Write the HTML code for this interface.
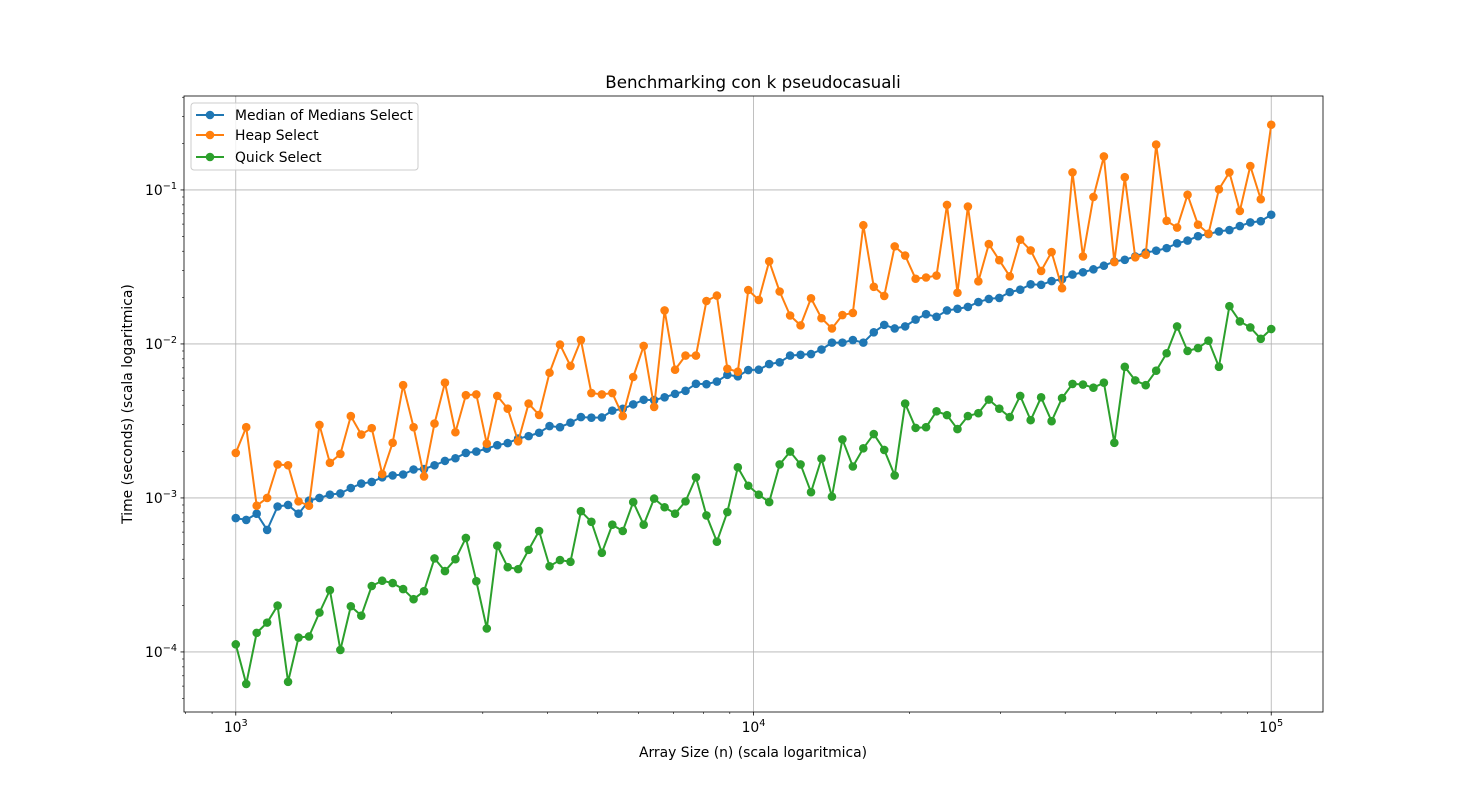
<!DOCTYPE html>
<html><head><meta charset="utf-8"><style>
body{margin:0;background:#fff}
svg{font-family:"DejaVu Sans","Liberation Sans",sans-serif}
</style></head><body>
<svg id="chart" width="1470" height="800" xmlns="http://www.w3.org/2000/svg"></svg>
<script>
const momValues=[7.4e-4,7.2e-4,7.9e-4,6.2e-4,8.8e-4,9.0e-4,7.9e-4,9.6e-4,1.0e-3,1.05e-3,1.07e-3,1.16e-3,1.24e-3,1.27e-3,1.36e-3,1.40e-3,1.42e-3,1.53e-3,1.54e-3,1.63e-3,1.74e-3,1.81e-3,1.96e-3,2.0e-3,2.09e-3,2.20e-3,2.27e-3,2.43e-3,2.52e-3,2.65e-3,2.93e-3,2.88e-3,3.08e-3,3.35e-3,3.32e-3,3.33e-3,3.69e-3,3.79e-3,4.05e-3,4.34e-3,4.32e-3,4.50e-3,4.74e-3,4.96e-3,5.51e-3,5.48e-3,5.70e-3,6.30e-3,6.16e-3,6.77e-3,6.8e-3,7.4e-3,7.6e-3,8.4e-3,8.5e-3,8.6e-3,9.2e-3,1.02e-2,1.02e-2,1.06e-2,1.02e-2,1.19e-2,1.33e-2,1.26e-2,1.30e-2,1.44e-2,1.56e-2,1.50e-2,1.65e-2,1.69e-2,1.74e-2,1.87e-2,1.96e-2,1.99e-2,2.17e-2,2.25e-2,2.44e-2,2.42e-2,2.56e-2,2.63e-2,2.82e-2,2.92e-2,3.05e-2,3.22e-2,3.43e-2,3.52e-2,3.70e-2,3.92e-2,4.03e-2,4.19e-2,4.50e-2,4.69e-2,5.01e-2,5.17e-2,5.38e-2,5.49e-2,5.83e-2,6.15e-2,6.27e-2,6.9e-2];
const heapValues=[1.96e-3,2.88e-3,8.9e-4,1.0e-3,1.65e-3,1.63e-3,9.5e-4,8.9e-4,2.98e-3,1.69e-3,1.93e-3,3.4e-3,2.58e-3,2.84e-3,1.43e-3,2.28e-3,5.4e-3,2.88e-3,1.38e-3,3.04e-3,5.6e-3,2.67e-3,4.65e-3,4.7e-3,2.25e-3,4.6e-3,3.8e-3,2.33e-3,4.1e-3,3.46e-3,6.5e-3,9.9e-3,7.2e-3,1.06e-2,4.8e-3,4.7e-3,4.8e-3,3.4e-3,6.1e-3,9.7e-3,3.9e-3,1.65e-2,6.8e-3,8.4e-3,8.4e-3,1.9e-2,2.06e-2,6.9e-3,6.6e-3,2.24e-2,1.93e-2,3.44e-2,2.19e-2,1.53e-2,1.32e-2,1.98e-2,1.47e-2,1.26e-2,1.54e-2,1.59e-2,5.9e-2,2.35e-2,2.05e-2,4.3e-2,3.75e-2,2.65e-2,2.7e-2,2.78e-2,8.0e-2,2.15e-2,7.8e-2,2.55e-2,4.45e-2,3.5e-2,2.75e-2,4.75e-2,4.05e-2,2.98e-2,3.95e-2,2.3e-2,0.13,3.7e-2,9.0e-2,0.165,3.4e-2,0.121,3.65e-2,3.8e-2,0.197,6.3e-2,5.7e-2,9.3e-2,5.95e-2,5.2e-2,0.101,0.13,7.3e-2,0.143,8.7e-2,0.265];
const quickValues=[1.12e-4,6.2e-5,1.33e-4,1.55e-4,2.0e-4,6.4e-5,1.24e-4,1.26e-4,1.8e-4,2.52e-4,1.03e-4,1.98e-4,1.72e-4,2.68e-4,2.9e-4,2.8e-4,2.56e-4,2.2e-4,2.48e-4,4.05e-4,3.35e-4,4.0e-4,5.5e-4,2.88e-4,1.42e-4,4.9e-4,3.55e-4,3.45e-4,4.6e-4,6.1e-4,3.6e-4,3.95e-4,3.85e-4,8.2e-4,7.0e-4,4.4e-4,6.7e-4,6.1e-4,9.4e-4,6.7e-4,9.9e-4,8.7e-4,7.9e-4,9.5e-4,1.36e-3,7.7e-4,5.2e-4,8.1e-4,1.58e-3,1.2e-3,1.05e-3,9.4e-4,1.65e-3,2.0e-3,1.65e-3,1.09e-3,1.8e-3,1.02e-3,2.4e-3,1.6e-3,2.1e-3,2.6e-3,2.05e-3,1.4e-3,4.1e-3,2.85e-3,2.88e-3,3.65e-3,3.45e-3,2.8e-3,3.4e-3,3.55e-3,4.35e-3,3.8e-3,3.35e-3,4.6e-3,3.2e-3,4.5e-3,3.15e-3,4.45e-3,5.5e-3,5.45e-3,5.2e-3,5.6e-3,2.28e-3,7.1e-3,5.8e-3,5.4e-3,6.7e-3,8.7e-3,1.3e-2,9.0e-3,9.4e-3,1.05e-2,7.1e-3,1.76e-2,1.4e-2,1.28e-2,1.08e-2,1.25e-2];
const xTickExps=[3,4,5];
const yTickExps=[-4,-3,-2,-1];
const seriesNames=["Median of Medians Select","Heap Select","Quick Select"];
const sizeMin=1000, sizeMax=100000;

const NS="http://www.w3.org/2000/svg";
const svg=document.getElementById('chart');
const L=184,R=1323,T=96,B=712;
const xLogMin=2.9,xLogMax=5.1, yLogMin=-4.39,yLogMax=-0.39;
function X(v){return L+(Math.log10(v)-xLogMin)/(xLogMax-xLogMin)*(R-L);}
function Y(v){return B-(Math.log10(v)-yLogMin)/(yLogMax-yLogMin)*(B-T);}
function el(tag,attrs,parent){const e=document.createElementNS(NS,tag);for(const k in attrs)e.setAttribute(k,attrs[k]);(parent||svg).appendChild(e);return e;}

const grid=el('g',{});


xTickExps.forEach(e=>{const x=X(Math.pow(10,e));el('line',{x1:x,x2:x,y1:T,y2:B,stroke:'#b0b0b0','stroke-width':0.8},grid);});
yTickExps.forEach(e=>{const y=Y(Math.pow(10,e));el('line',{x1:L,x2:R,y1:y,y2:y,stroke:'#b0b0b0','stroke-width':0.8},grid);});

const colors=['#1f77b4','#ff7f0e','#2ca02c'];
const allSeries=[momValues,heapValues,quickValues];
allSeries.forEach((vals,si)=>{
  const g=el('g',{});
  
  
  const n=vals.length;
  const pts=vals.map((v,i)=>[X(sizeMin*Math.pow(sizeMax/sizeMin,i/(n-1))),Y(v)]);
  const pl=el('polyline',{points:pts.map(p=>p.join(',')).join(' '),fill:'none',stroke:colors[si],'stroke-width':2,'stroke-linejoin':'round'},g);
  
  
  pts.forEach(p=>{
    const c=el('circle',{cx:p[0],cy:p[1],r:4.3,fill:colors[si]},g);
    
    
  });
});

const frame=el('rect',{x:L,y:T,width:R-L,height:B-T,fill:'none',stroke:'#000','stroke-width':0.8});



const xt=el('g',{});


for(let e=2;e<=5;e++){for(let m=1;m<10;m++){const v=m*Math.pow(10,e);const lg=Math.log10(v);if(lg<xLogMin||lg>xLogMax)continue;const x=X(v);const major=m===1;el('line',{x1:x,x2:x,y1:B,y2:B+(major?3.5:2),stroke:'#000','stroke-width':major?0.8:0.6},xt);}}
xTickExps.forEach(e=>{const t=el('text',{x:X(Math.pow(10,e)),y:B+20,'text-anchor':'middle','font-size':13.9},xt);t.innerHTML='10<tspan font-size="9.7" dy="-6">'+e+'</tspan>';});
const yt=el('g',{});


for(let e=-5;e<=-1;e++){for(let m=1;m<10;m++){const v=m*Math.pow(10,e);const lg=Math.log10(v);if(lg<yLogMin||lg>yLogMax)continue;const y=Y(v);const major=m===1;el('line',{x1:L,x2:L-(major?3.5:2),y1:y,y2:y,stroke:'#000','stroke-width':major?0.8:0.6},yt);}}
yTickExps.forEach(e=>{const t=el('text',{x:L-7,y:Y(Math.pow(10,e))+5,'text-anchor':'end','font-size':13.9},yt);t.innerHTML='10<tspan font-size="9.7" dy="-6">\u2212'+(-e)+'</tspan>';});
</script>
<svg style="position:absolute;left:0;top:0" width="1470" height="800">
<text x="753" y="88" text-anchor="middle" font-size="16.7" font-family="DejaVu Sans, Liberation Sans, sans-serif">Benchmarking con k pseudocasuali</text>
<text x="753" y="757" text-anchor="middle" font-size="13.9" font-family="DejaVu Sans, Liberation Sans, sans-serif">Array Size (n) (scala logaritmica)</text>
<text transform="translate(132,404) rotate(-90)" text-anchor="middle" font-size="13.9" font-family="DejaVu Sans, Liberation Sans, sans-serif">Time (seconds) (scala logaritmica)</text>
<g font-family="DejaVu Sans, Liberation Sans, sans-serif" font-size="13.9">
<rect x="191" y="103" width="227" height="67" rx="3" fill="#fff" fill-opacity="0.8" stroke="#ccc"/>
<g><line x1="196" x2="224" y1="115" y2="115" stroke="#1f77b4" stroke-width="2"/><circle cx="210" cy="115" r="4.3" fill="#1f77b4"/><text x="235" y="120">Median of Medians Select</text></g>
<g><line x1="196" x2="224" y1="135" y2="135" stroke="#ff7f0e" stroke-width="2"/><circle cx="210" cy="135" r="4.3" fill="#ff7f0e"/><text x="235" y="140">Heap Select</text></g>
<g><line x1="196" x2="224" y1="157" y2="157" stroke="#2ca02c" stroke-width="2"/><circle cx="210" cy="157" r="4.3" fill="#2ca02c"/><text x="235" y="162">Quick Select</text></g>
</g>
</svg>
</body></html>
